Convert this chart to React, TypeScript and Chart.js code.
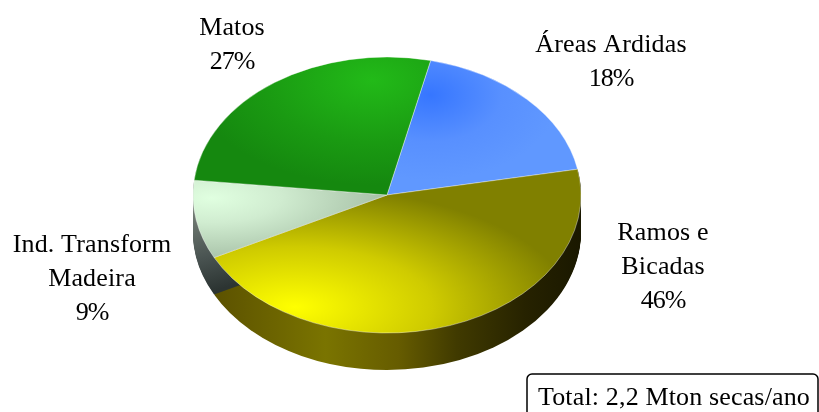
import React, { useEffect, useRef } from "react";
import { Chart, registerables } from "chart.js";

Chart.register(...registerables);

const categories = ["Áreas Ardidas", "Ramos e Bicadas", "Ind. Transform Madeira", "Matos"];
const shares = [18.4, 45.5, 9.2, 26.9];
const totalNote = "Total: 2,2 Mton secas/ano";

const labelLines = [["Áreas Ardidas"], ["Ramos e", "Bicadas"], ["Ind. Transform", "Madeira"], ["Matos"]];
const labelAnchors = [
  [611, 52],
  [663, 240],
  [92, 252],
  [232, 35],
];
const LINE = 34;
const FONT = '26px "Liberation Serif"';
const TRACK = "0.15px";
const PCT_TRACK = "-1px";

const W = 819;
const H = 412;
const CX = 387;
const CY = 195;
const RX = 194;
const RY = 138;
const DEPTH = 37;
const K = RY / RX;
const ROT = 13;

type Face = { c: [number, number]; r: [number, number]; stops: [number, string][] };
const faces: Face[] = [
  { c: [430, 95], r: [130, 85], stops: [[0, "#3676ff"], [0.55, "#5890ff"], [1, "#6098ff"]] },
  { c: [295, 307], r: [275, 120], stops: [[0, "#ffff00"], [0.5, "#cfcb00"], [1, "#808000"]] },
  { c: [212, 198], r: [170, 62], stops: [[0, "#e0ffe0"], [0.4, "#d0ecd0"], [1, "#a8c2a8"]] },
  { c: [372, 80], r: [180, 105], stops: [[0, "#22ba18"], [0.6, "#1a9a12"], [1, "#15880f"]] },
];

const sideStops: Record<number, { from: [number, number]; to: [number, number]; stops: [number, string][] }> = {
  1: {
    from: [216, 0],
    to: [581, 0],
    stops: [[0, "#5c5200"], [0.3, "#7a7400"], [0.5, "#665c00"], [0.66, "#403a00"], [0.85, "#262200"], [1, "#1a1800"]],
  },
  2: {
    from: [193, 205],
    to: [216, 290],
    stops: [[0, "#7a847a"], [0.6, "#4a5452"], [1, "#2c3432"]],
  },
};

function makeFacePattern(ctx: CanvasRenderingContext2D, f: Face) {
  const off = document.createElement("canvas");
  off.width = W;
  off.height = H;
  const o = off.getContext("2d")!;
  o.translate(f.c[0], f.c[1]);
  o.scale(f.r[0], f.r[1]);
  const g = o.createRadialGradient(0, 0, 0, 0, 0, 1);
  f.stops.forEach(([p, col]) => g.addColorStop(p, col));
  o.fillStyle = g;
  o.fillRect(-50, -50, 100, 100);
  const pattern = ctx.createPattern(off, "no-repeat")!;
  pattern.setTransform(new DOMMatrix().translate(0, H / 2).scale(1, 1 / K).translate(0, -CY));
  return pattern;
}

const pie3d = {
  id: "pie3d",
  beforeDatasetsDraw(chart: any) {
    const ctx: CanvasRenderingContext2D = chart.ctx;
    const arcs = chart.getDatasetMeta(0).data;
    Object.keys(sideStops).forEach((key) => {
      const i = Number(key);
      const s = sideStops[i];
      const { x, y, startAngle, endAngle, outerRadius } = arcs[i].getProps(
        ["x", "y", "startAngle", "endAngle", "outerRadius"],
        true
      );
      const g = ctx.createLinearGradient(s.from[0], s.from[1], s.to[0], s.to[1]);
      s.stops.forEach(([p, col]) => g.addColorStop(p, col));
      for (let d = DEPTH; d >= 0; d--) {
        ctx.save();
        ctx.setTransform(1, 0, 0, K, 0, CY + d - (H / 2) * K);
        ctx.beginPath();
        ctx.moveTo(x, y);
        ctx.arc(x, y, outerRadius, startAngle, endAngle);
        ctx.closePath();
        ctx.setTransform(1, 0, 0, 1, 0, 0);
        ctx.fillStyle = g;
        ctx.fill();
        ctx.restore();
      }
    });
    ctx.save();
    ctx.setTransform(1, 0, 0, K, 0, CY - (H / 2) * K);
  },
  afterDatasetsDraw(chart: any) {
    const ctx: CanvasRenderingContext2D = chart.ctx;
    ctx.restore();
    ctx.save();
    ctx.fillStyle = "#000";
    ctx.font = FONT;
    ctx.textAlign = "center";
    ctx.textBaseline = "alphabetic";
    labelLines.forEach((lines, i) => {
      const [ax, ay] = labelAnchors[i];
      (ctx as any).letterSpacing = TRACK;
      lines.forEach((t, n) => ctx.fillText(t, ax, ay + n * LINE));
      (ctx as any).letterSpacing = PCT_TRACK;
      ctx.fillText(`${Math.round(shares[i])}%`, ax, ay + lines.length * LINE);
    });
    ctx.strokeStyle = "#000";
    ctx.lineWidth = 1.5;
    ctx.beginPath();
    ctx.roundRect(527, 374, 291, 60, 5);
    ctx.stroke();
    (ctx as any).letterSpacing = TRACK;
    ctx.textAlign = "left";
    ctx.fillText(totalNote, 538, 405);
    ctx.restore();
  },
};

export default function App() {
  const ref = useRef<HTMLCanvasElement>(null);
  useEffect(() => {
    const canvas = ref.current!;
    const ctx = canvas.getContext("2d")!;
    const chart = new Chart(canvas, {
      type: "pie",
      data: {
        labels: categories,
        datasets: [
          {
            data: shares,
            backgroundColor: faces.map((f) => makeFacePattern(ctx, f)),
            borderColor: "rgba(255,255,255,0.45)",
            borderWidth: 1,
            clip: false,
          } as any,
        ],
      },
      options: {
        responsive: false,
        animation: false,
        radius: RX,
        rotation: ROT,
        layout: { padding: { right: W - 2 * CX } },
        plugins: { legend: { display: false }, tooltip: { enabled: false } },
      } as any,
      plugins: [pie3d],
    });
    return () => chart.destroy();
  }, []);
  return (
    <div style={{ position: "fixed", left: 0, top: 0, width: W, height: H, background: "#fff" }}>
      <canvas ref={ref} width={W} height={H} style={{ display: "block" }} />
    </div>
  );
}
